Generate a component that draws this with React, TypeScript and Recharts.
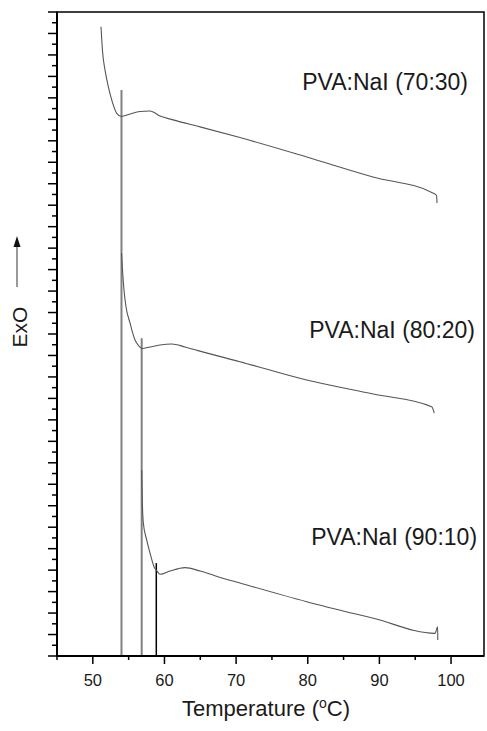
import { LineChart, Line, XAxis, YAxis, ReferenceArea, ReferenceDot } from 'recharts';

// temperature (°C) and signal (arbitrary units, 0–60)
const curve7030 = [
  { t: 51.14, v: 58.63 }, { t: 51.38, v: 56.15 }, { t: 51.7, v: 54.6 }, { t: 52.16, v: 53.04 },
  { t: 52.78, v: 51.49 }, { t: 53.33, v: 50.56 }, { t: 54.0, v: 50.27 }, { t: 55.19, v: 50.5 },
  { t: 56.59, v: 50.73 }, { t: 57.98, v: 50.78 }, { t: 59.38, v: 50.31 }, { t: 61.19, v: 49.95 },
  { t: 64.96, v: 49.3 }, { t: 70.54, v: 48.3 }, { t: 79.85, v: 46.49 }, { t: 89.11, v: 44.63 },
  { t: 97.54, v: 43.12 }, { t: 97.98, v: 42.9 }, { t: 98.04, v: 42.2 },
];

const curve8020 = [
  { t: 54.0, v: 37.55 }, { t: 54.17, v: 35.68 }, { t: 54.35, v: 34.1 }, { t: 54.63, v: 32.54 },
  { t: 55.19, v: 31.03 }, { t: 55.89, v: 29.44 }, { t: 56.45, v: 28.88 }, { t: 56.87, v: 28.65 },
  { t: 57.98, v: 28.79 }, { t: 59.38, v: 28.98 }, { t: 61.01, v: 29.07 }, { t: 62.87, v: 28.79 },
  { t: 64.68, v: 28.45 }, { t: 70.54, v: 27.42 }, { t: 79.85, v: 25.71 }, { t: 89.15, v: 24.41 },
  { t: 97.3, v: 23.23 }, { t: 97.66, v: 22.62 },
];

const curve9010 = [
  { t: 56.82, v: 17.33 }, { t: 56.87, v: 15.47 }, { t: 57.05, v: 12.39 }, { t: 57.52, v: 10.81 },
  { t: 58.12, v: 9.25 }, { t: 58.54, v: 8.32 }, { t: 58.96, v: 7.92 }, { t: 59.38, v: 7.61 },
  { t: 60.77, v: 7.92 }, { t: 62.87, v: 8.23 }, { t: 64.96, v: 7.92 }, { t: 67.47, v: 7.39 },
  { t: 70.54, v: 6.8 }, { t: 79.85, v: 5.06 }, { t: 89.15, v: 3.51 }, { t: 97.76, v: 2.11 },
  { t: 98.13, v: 2.73 }, { t: 98.15, v: 1.49 },
];

const marker1 = [{ t: 54.0, v: 0 }, { t: 54.0, v: 52.74 }];
const marker2 = [{ t: 56.82, v: 0 }, { t: 56.82, v: 29.6 }];
const marker3 = [{ t: 58.86, v: 0 }, { t: 58.86, v: 8.66 }];

const sampleLabels = [
  { text: 'PVA:NaI (70:30)', t: 102.37, v: 53.48 },
  { text: 'PVA:NaI (80:20)', t: 103.35, v: 30.37 },
  { text: 'PVA:NaI (90:10)', t: 103.63, v: 11.09 },
];

const xTicks = [45, 50, 55, 60, 65, 70, 75, 80, 85, 90, 95, 100];
const yTicks = Array.from({ length: 61 }, (_, i) => i);

const FONT = '"Liberation Sans", Arial, sans-serif';
const PLOT_LEFT = 57;
const PLOT_BOTTOM = 656;

const XTick = (props: any) => {
  const { x, payload } = props;
  const major = payload.value % 10 === 0;
  return (
    <g>
      <line x1={x} x2={x} y1={PLOT_BOTTOM} y2={PLOT_BOTTOM + (major ? 8 : 4)} stroke="#000" strokeWidth={1.5} />
      {major && (
        <text x={x} y={680} dy="0.36em" textAnchor="middle" fontSize={16.5} fill="#1a1a1a" fontFamily={FONT}>
          {payload.value}
        </text>
      )}
    </g>
  );
};

const YTick = (props: any) => {
  const { y, payload } = props;
  const major = payload.value % 2 === 0;
  return <line x1={PLOT_LEFT} x2={PLOT_LEFT - (major ? 9 : 5)} y1={y} y2={y} stroke="#000" strokeWidth={1.5} />;
};

export default function App() {
  return (
    <div style={{ position: 'absolute', left: 0, top: 0, background: '#fff' }}>
      <LineChart width={487} height={731} margin={{ top: 12, right: 3, left: 17, bottom: 35 }}>
        <XAxis
          type="number"
          dataKey="t"
          domain={[45, 104.6]}
          ticks={xTicks}
          interval={0}
          allowDataOverflow
          height={40}
          axisLine={{ stroke: '#000', strokeWidth: 2 }}
          tickLine={false}
          tick={XTick}
          label={{
            content: () => (
              <text x={266} y={708} dy="0.36em" textAnchor="middle" fontSize={22} fill="#1a1a1a" fontFamily={FONT}>
                Temperature (
                <tspan fontSize={14} dy="-8">o</tspan>
                <tspan dy="8">C)</tspan>
              </text>
            ),
          }}
        />
        <YAxis
          type="number"
          domain={[0, 60]}
          ticks={yTicks}
          interval={0}
          allowDataOverflow
          width={40}
          axisLine={{ stroke: '#000', strokeWidth: 2 }}
          tickLine={false}
          tick={YTick}
          label={{
            content: () => (
              <g>
                <text
                  x={19}
                  y={327}
                  transform="rotate(-90 19 327)"
                  textAnchor="middle"
                  dominantBaseline="central"
                  fontSize={21}
                  fill="#1a1a1a"
                  fontFamily={FONT}
                >
                  ExO
                </text>
                <line x1={17} x2={17} y1={287} y2={244} stroke="#777" strokeWidth={1.5} />
                <path d="M17 236 L13.5 247 L20.5 247 Z" fill="#111" />
              </g>
            ),
          }}
        />
        <ReferenceArea x1={45} x2={104.6} y1={0} y2={60} fill="none" stroke="#000" strokeWidth={1.5} />
        <Line data={marker1} dataKey="v" type="linear" stroke="#808080" strokeWidth={2} dot={false} isAnimationActive={false} />
        <Line data={marker2} dataKey="v" type="linear" stroke="#808080" strokeWidth={2} dot={false} isAnimationActive={false} />
        <Line data={marker3} dataKey="v" type="linear" stroke="#000" strokeWidth={1.5} dot={false} isAnimationActive={false} />
        <Line data={curve7030} dataKey="v" type="monotone" stroke="#555" strokeWidth={1.1} dot={false} isAnimationActive={false} />
        <Line data={curve8020} dataKey="v" type="monotone" stroke="#555" strokeWidth={1.1} dot={false} isAnimationActive={false} />
        <Line data={curve9010} dataKey="v" type="monotone" stroke="#555" strokeWidth={1.1} dot={false} isAnimationActive={false} />
        {sampleLabels.map((l) => (
          <ReferenceDot
            key={l.text}
            x={l.t}
            y={l.v}
            r={0}
            fill="none"
            stroke="none"
            label={{
              content: (p: any) => (
                <text x={p.viewBox.x} y={p.viewBox.y} dy="0.36em" textAnchor="end" fontSize={23} fill="#1a1a1a" fontFamily={FONT}>
                  {l.text}
                </text>
              ),
            }}
          />
        ))}
      </LineChart>
    </div>
  );
}
